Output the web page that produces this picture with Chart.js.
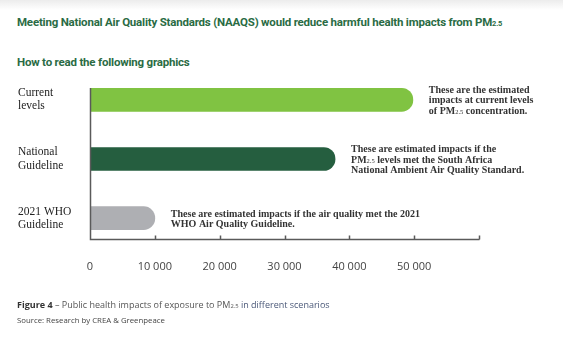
<!DOCTYPE html>
<html>
<head>
<meta charset="utf-8">
<script src="https://cdn.jsdelivr.net/npm/chart.js@4/dist/chart.umd.min.js"></script>
<style>
	html, body { margin: 0; padding: 0; background: #fff; }
	body { width: 563px; height: 351px; position: relative; overflow: hidden;
		background: linear-gradient(#ececec 0px, #fff 10px); }
	#wrap { position: absolute; left: 0; top: 0; width: 563px; height: 351px; }
	.title { position: absolute; left: 17px; font-family: Roboto, sans-serif; font-weight: bold;
		color: #2a6b44; white-space: nowrap; }
	.title sub, .cap sub { font-size: 65%; vertical-align: baseline; }
	#t1 { top: 15px; font-size: 11.5px; letter-spacing: -0.2px; }
	#t2 { top: 55px; font-size: 11.5px; letter-spacing: -0.2px; }
	.cap { position: absolute; left: 17px; font-family: "Open Sans", sans-serif; white-space: nowrap; color: #555; }
	#c1 { top: 298px; font-size: 9px; }
	#c1 b { color: #333; }
	#c1 .blue { color: #4a5878; }
	#c2 { top: 315px; font-size: 7.8px; color: #444; }
</style>
</head>
<body>
<div class="title" id="t1">Meeting National Air Quality Standards (NAAQS) would reduce harmful health impacts from PM<sub>2.5</sub></div>
<div class="title" id="t2">How to read the following graphics</div>
<div id="wrap"><canvas id="chart"></canvas></div>
<div class="cap" id="c1"><b>Figure 4</b> – Public health impacts of exposure to PM<sub>2.5</sub> <span class="blue">in different scenarios</span></div>
<div class="cap" id="c2">Source: Research by CREA &amp; Greenpeace</div>
<script>
// scenario labels (y axis)
const scenarios = [
	["Current", "levels"],
	["National", "Guideline"],
	["2021 WHO", "Guideline"]
];
// estimated health impacts per scenario
const impacts = [49800, 37800, 10000];
const barColors = ["#80c342", "#255e3f", "#aeafb3"];
// notes next to each bar, {..} is subscript
const notes = [
	["These are the estimated", "impacts at current levels", "of PM{2.5} concentration."],
	["These are estimated impacts if the", "PM{2.5} levels met the South Africa", "National Ambient Air Quality Standard."],
	["These are estimated impacts if the air quality met the 2021", "WHO Air Quality Guideline."]
];
const xTicks = [0, 10000, 20000, 30000, 40000, 50000, 60000];

const serif = "'Liberation Serif', serif";

// draw a line of text with {sub} parts
function drawRich(ctx, str, x, y, size) {
	const parts = str.split(/(\{[^}]*\})/);
	parts.forEach((p) => {
		if (!p) return;
		if (p[0] === "{") {
			const s = p.slice(1, -1);
			ctx.font = (size * 0.65) + "px " + serif;
			ctx.fillText(s, x, y + 1);
			x += ctx.measureText(s).width;
		} else {
			ctx.font = "bold " + size + "px " + serif;
			ctx.fillText(p, x, y);
			x += ctx.measureText(p).width;
		}
	});
}

const notesPlugin = {
	id: "notes",
	afterDraw(chart) {
		const ctx = chart.ctx;
		const meta = chart.getDatasetMeta(0);
		const xs = chart.scales.x;
		const ys = chart.scales.y;
		ctx.save();
		ctx.strokeStyle = "#5a5a5a";
		ctx.lineWidth = 1.5;
		// axis lines
		const x0 = Math.round(xs.getPixelForValue(0)) + 0.5;
		const x1 = Math.round(xs.getPixelForValue(xs.max)) + 0.5;
		const yTop = Math.round(ys.getPixelForValue(ys.min));
		const yBot = Math.round(ys.getPixelForValue(ys.max)) - 0.5;
		ctx.beginPath();
		ctx.moveTo(x0, yTop);
		ctx.lineTo(x0, yBot);
		ctx.lineTo(x1, yBot);
		// upward tick marks on the x axis
		xTicks.forEach((v) => {
			const px = Math.round(xs.getPixelForValue(v)) + 0.5;
			ctx.moveTo(px, yBot - 4);
			ctx.lineTo(px, yBot);
		});
		ctx.stroke();
		// notes
		ctx.fillStyle = "#333";
		ctx.textBaseline = "middle";
		const lh = 10.3;
		meta.data.forEach((bar, i) => {
			const lines = notes[i];
			const y0 = bar.y + 1 - (lines.length - 1) * lh / 2;
			lines.forEach((l, j) => {
				drawRich(ctx, l, bar.x + 16, y0 + j * lh, 10);
			});
		});
		ctx.restore();
	}
};

new Chart(document.getElementById("chart"), {
	type: "bar",
	data: {
		datasets: [{
			data: impacts.map((v, i) => ({ x: v, y: i })),
			backgroundColor: barColors,
			barThickness: 23,
			borderRadius: 12,
			borderSkipped: "start"
		}]
	},
	options: {
		indexAxis: "y",
		responsive: true,
		maintainAspectRatio: false,
		animation: false,
		layout: { padding: { left: 18, right: 84, top: 88, bottom: 0 } },
		plugins: { legend: { display: false }, tooltip: { enabled: false } },
		scales: {
			x: {
				type: "linear",
				min: 0,
				max: 60000,
				afterBuildTicks: (s) => { s.ticks = xTicks.map((v) => ({ value: v })); },
				afterFit: (s) => { s.height = 111; },
				grid: { display: false },
				border: { display: false },
				ticks: {
					padding: 12,
					maxRotation: 0,
					color: "#444",
					font: { family: "'Open Sans', sans-serif", size: 11 },
					callback: (v) => v >= 60000 ? "" : v.toLocaleString("en-US").replace(/,/g, " ")
				}
			},
			y: {
				type: "linear",
				reverse: true,
				offset: false,
				min: -0.2,
				max: 2.37,
				afterBuildTicks: (s) => { s.ticks = scenarios.map((c, i) => ({ value: i })); },
				afterFit: (s) => { s.width = 72; },
				grid: { display: false },
				border: { display: false },
				ticks: {
					crossAlign: "far",
					padding: 0,
					color: "#222",
					font: { family: serif, size: 11.5, lineHeight: 1.15 },
					callback: (v) => scenarios[v]
				}
			}
		}
	},
	plugins: [notesPlugin]
});
</script>
</body>
</html>
